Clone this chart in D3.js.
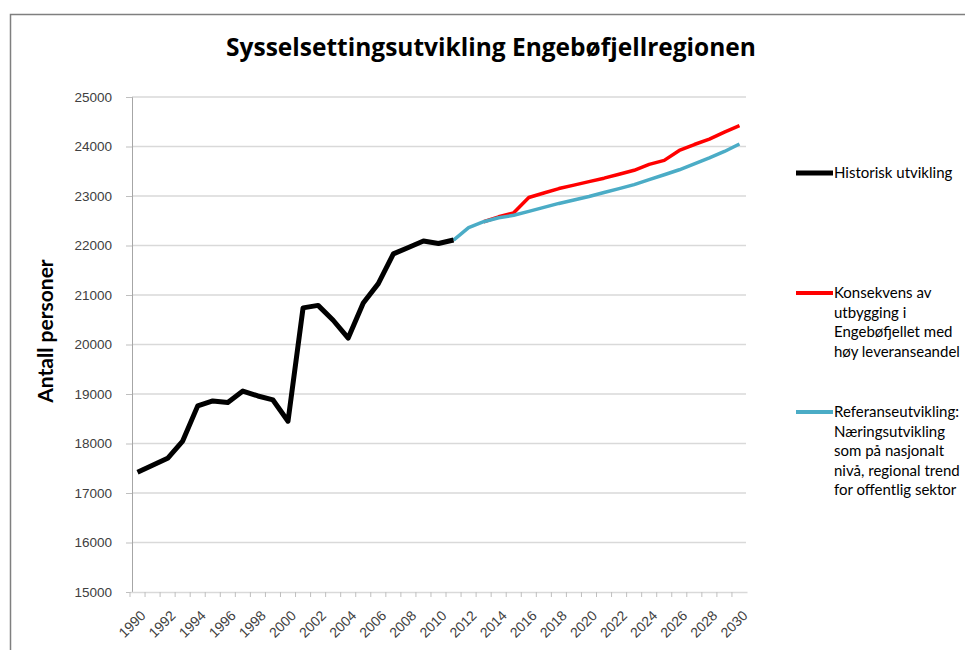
<!DOCTYPE html>
<html>
<head>
<meta charset="utf-8">
<script src="https://cdn.jsdelivr.net/npm/d3@7"></script>
<style>
  body { margin: 0; background: #fff; }
  svg { font-family: Lato, "Open Sans", sans-serif; }
</style>
</head>
<body>
<svg></svg>
<script>
// data
const years = d3.range(1990, 2031)
const yTicks = [15000, 16000, 17000, 18000, 19000, 20000, 21000, 22000, 23000, 24000, 25000]
const histYears = d3.range(1990, 2012)
const historisk = [17420, 17560, 17700, 18050, 18760, 18860, 18830, 19060, 18960, 18880, 18450,
                   20740, 20790, 20490, 20130, 20840, 21230, 21830, 21960, 22090, 22040, 22110]
const refYears = d3.range(2011, 2031)
const referanse = [22110, 22360, 22480, 22560, 22610, 22690, 22770, 22850, 22920, 22990,
                   23070, 23150, 23230, 23330, 23430, 23530, 23650, 23770, 23900, 24050]
const konsYears = d3.range(2013, 2031)
const konsekvens = [22480, 22580, 22660, 22970, 23060, 23150, 23220, 23290, 23360, 23440,
                    23520, 23640, 23720, 23920, 24040, 24150, 24290, 24420]

const legendItems = [
  {color: '#000000', w: 5, y: 173, lines: ['Historisk utvikling']},
  {color: '#ff0000', w: 4, y: 293, lines: ['Konsekvens av', 'utbygging i', 'Engebøfjellet med', 'høy leveranseandel']},
  {color: '#4bacc6', w: 4, y: 412, lines: ['Referanseutvikling:', 'Næringsutvikling', 'som på nasjonalt', 'nivå, regional trend', 'for offentlig sektor']}
]

let width = 965
let height = 650

const svg = d3.select('svg').attr('width', width).attr('height', height)

// chart frame (right/bottom edges fall outside the picture)
svg.append('rect').attr('x', 10.5).attr('y', 14.5).attr('width', 1000).attr('height', 700)
  .attr('fill', 'none').attr('stroke', '#7f7f7f').attr('stroke-width', 1.5)

const xScale = d3.scalePoint().domain(years).range([130, 747]).padding(0.5)
const yScale = d3.scaleLinear().domain([15000, 25000]).range([592, 97])

// gridlines
svg.append('g').selectAll('line').data(yTicks.slice(1)).enter().append('line')
  .attr('x1', 132).attr('x2', 746)
  .attr('y1', d => yScale(d)).attr('y2', d => yScale(d))
  .attr('stroke', '#d9d9d9').attr('stroke-width', 1.5)

// y axis
const yAxis = d3.axisLeft(yScale).tickValues(yTicks).tickSize(6).tickPadding(14).tickFormat(d3.format('d'))
const gy = svg.append('g').attr('transform', 'translate(132,0)').call(yAxis)
gy.select('.domain').attr('stroke', '#a6a6a6')
gy.selectAll('.tick line').attr('stroke', '#bfbfbf')
gy.selectAll('text').attr('fill', '#404040').style('font-size', '13.5px')

// x axis
const xAxis = d3.axisBottom(xScale).tickValues(years.filter(y => y % 2 === 0)).tickSize(0).tickPadding(0)
const gx = svg.append('g').attr('transform', 'translate(0,592)').call(xAxis)
gx.select('.domain').attr('stroke', '#d9d9d9').attr('stroke-width', 1.5)
gx.selectAll('text').attr('fill', '#404040').style('font-size', '14px')
  .attr('text-anchor', 'end').attr('dy', '0.35em')
  .attr('transform', 'translate(5,21) rotate(-45)')
// small tick marks on each category
svg.append('g').selectAll('line').data(years).enter().append('line')
  .attr('x1', d => xScale(d) - xScale.step() / 2).attr('x2', d => xScale(d) - xScale.step() / 2)
  .attr('y1', 592).attr('y2', 597).attr('stroke', '#bfbfbf')

// lines
const line = (ys) => d3.line().x((d, i) => xScale(ys[i])).y(d => yScale(d))
svg.append('path').datum(konsekvens).attr('d', line(konsYears))
  .attr('fill', 'none').attr('stroke', '#ff0000').attr('stroke-width', 3.5).attr('stroke-linejoin', 'round')
svg.append('path').datum(referanse).attr('d', line(refYears))
  .attr('fill', 'none').attr('stroke', '#4bacc6').attr('stroke-width', 3.5).attr('stroke-linejoin', 'round')
svg.append('path').datum(historisk).attr('d', line(histYears))
  .attr('fill', 'none').attr('stroke', '#000000').attr('stroke-width', 5).attr('stroke-linejoin', 'round')

// title
svg.append('text').attr('x', 491).attr('y', 56).attr('text-anchor', 'middle')
  .style('font-family', '"Open Sans", sans-serif')
  .style('font-size', '24.5px').style('font-weight', 'bold').attr('fill', '#000')
  .text('Sysselsettingsutvikling Engebøfjellregionen')

// y axis title
svg.append('text').attr('transform', 'translate(53,331) rotate(-90)').attr('text-anchor', 'middle')
  .style('font-size', '21px').style('font-weight', 'bold').attr('fill', '#000')
  .text('Antall personer')

// legend
const leg = svg.append('g').selectAll('g').data(legendItems).enter().append('g')
leg.append('line').attr('x1', 796).attr('x2', 833).attr('y1', d => d.y).attr('y2', d => d.y)
  .attr('stroke', d => d.color).attr('stroke-width', d => d.w)
leg.each(function (d) {
  const t = d3.select(this).append('text').attr('x', 834).attr('y', d.y + 5)
    .style('font-size', '15px').attr('fill', '#000')
  d.lines.forEach((s, i) => t.append('tspan').attr('x', 834).attr('dy', i === 0 ? 0 : 19.5).text(s))
})
</script>
</body>
</html>
